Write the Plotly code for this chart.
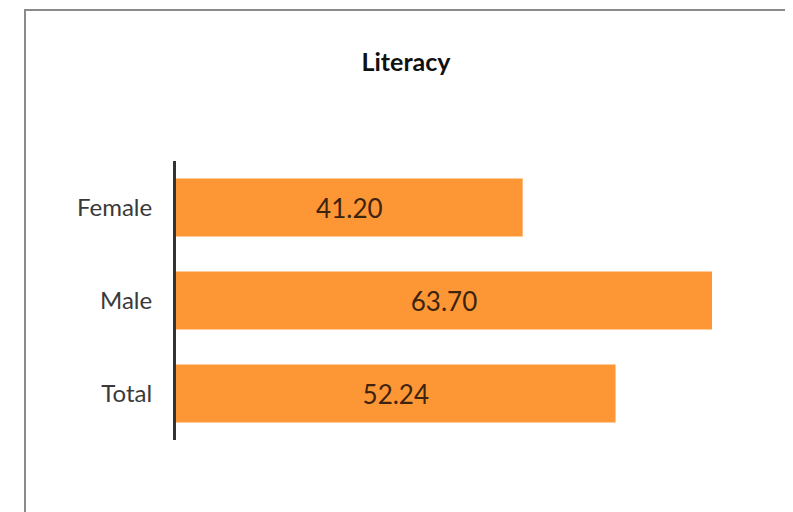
import plotly.graph_objects as go

categories = ["Female", "Male", "Total"]
values = [41.20, 63.70, 52.24]

# page body has an 8px margin; work in figure coordinates
OFF = 8
W, H = 793 - OFF, 512 - OFF
L, T = 176 - OFF, 161 - OFF
R = W - (765 - OFF)
B = H - (440 - OFF)
pw = W - L - R
ph = H - T - B

fig = go.Figure(go.Bar(
    x=values, y=categories, orientation="h",
    marker=dict(color="#FD9735", line=dict(width=0)),
    texttemplate="%{x:.2f}", textposition="inside", insidetextanchor="middle",
    textfont=dict(family="Lato, sans-serif", size=26, color="#3d2410"),
    cliponaxis=False,
))

def px_x(p):
    return (p - OFF - L) / pw

def px_y(p):
    return 1 - (p - OFF - T) / ph

fig.update_layout(
    width=W, height=H,
    margin=dict(l=L, r=R, t=T, b=B),
    paper_bgcolor="white", plot_bgcolor="white",
    showlegend=False,
    bargap=0.376,
    title=dict(text="<b>Literacy</b>", x=(406 - OFF) / W, xanchor="center",
               y=1 - (62 - OFF) / H, yanchor="middle",
               font=dict(family="Lato, sans-serif", size=25, color="#111111")),
    xaxis=dict(range=[0, 70], visible=False, showgrid=False, zeroline=False),
    yaxis=dict(categoryorder="array", categoryarray=categories, autorange="reversed",
               showline=True, linecolor="#333333", linewidth=3, showgrid=False,
               ticks="", ticklabelstandoff=16,
               tickfont=dict(family="Lato, sans-serif", size=24, color="#3a3a3a")),
    shapes=[dict(type="rect", xref="paper", yref="paper",
                 x0=px_x(25), x1=px_x(787), y0=px_y(540), y1=px_y(10),
                 line=dict(color="#8a8a8a", width=2), fillcolor="rgba(0,0,0,0)",
                 layer="below")],
)

fig.write_html("out.html")
